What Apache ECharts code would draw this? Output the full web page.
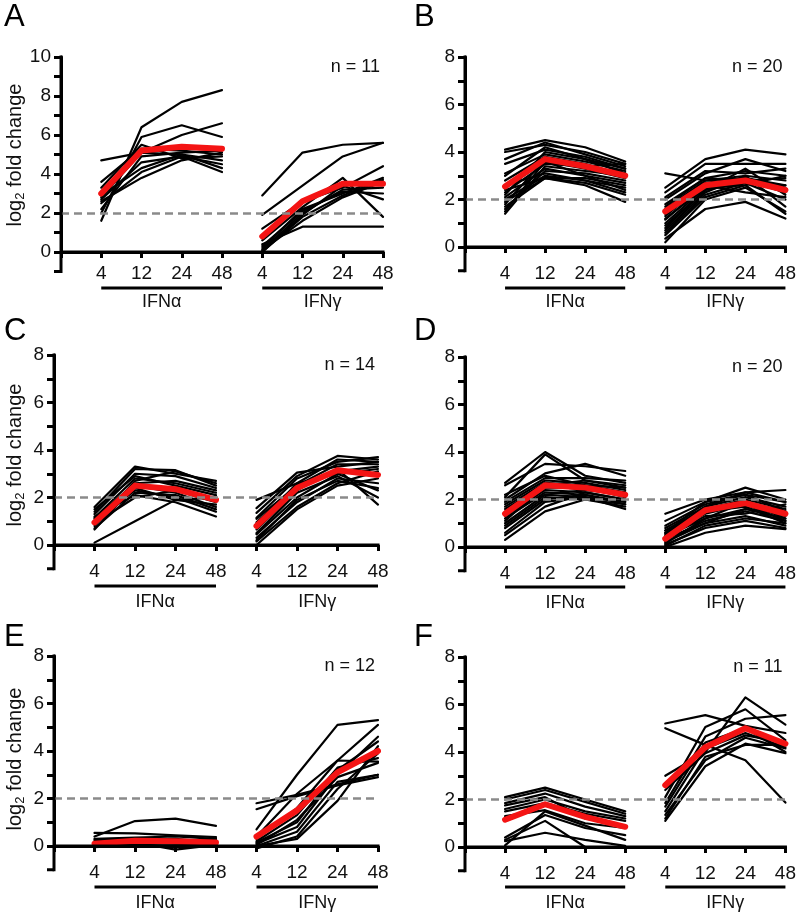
<!DOCTYPE html>
<html><head><meta charset="utf-8">
<script src="https://cdn.jsdelivr.net/npm/echarts/dist/echarts.min.js"></script>
<style>html,body{margin:0;padding:0;background:#fff}#c{width:799px;height:916px}</style>
</head><body><div id="c"></div><script>
const timeLabels = ['4','12','24','48'];
const groupNames = ['IFNα','IFNγ'];
const panelLetters = ['A','B','C','D','E','F'];
const nLabels = ['n = 11','n = 20','n = 14','n = 20','n = 12','n = 11'];
const yMaxes = [10,8,8,8,8,8];
const yAxisBottom = -1;
const threshold = 2;

// Panel A
const aAlpha = [[1.6,6.4,7.7,8.3],[4.7,5.1,6.0,6.6],[2.0,5.9,6.5,5.9],[3.6,5.3,5.2,5.0],[2.8,5.1,5.0,4.7],[2.7,4.6,4.9,4.5],[2.5,4.1,4.9,4.1],[2.6,3.8,4.7,5.1],[2.9,4.3,5.0,4.3],[2.2,4.9,5.1,5.2],[3.3,5.5,4.8,4.9]];
const aGamma = [[2.9,5.1,5.5,5.6],[1.9,3.4,4.9,5.6],[1.2,2.6,3.3,4.4],[0.4,1.3,1.3,1.3],[0.6,2.3,3.8,1.8],[0.2,2.2,3.0,3.8],[0.1,2.0,3.2,3.3],[0.0,1.8,2.9,3.7],[0.3,2.1,3.1,3.0],[0.1,1.6,2.8,3.6],[0.0,1.9,3.4,2.7]];
const aAlphaMean = [3.0,5.2,5.4,5.3];
const aGammaMean = [0.8,2.6,3.5,3.5];
// Panel B
const bAlpha = [[4.1,4.5,4.2,3.6],[4.0,4.3,4.0,3.5],[3.7,4.4,3.9,3.4],[3.5,4.1,3.8,3.3],[3.1,3.9,3.6,3.2],[2.8,3.8,3.5,3.0],[2.5,3.6,3.3,2.9],[2.3,3.5,3.4,3.1],[2.1,3.3,3.0,2.7],[2.0,3.0,2.8,2.5],[1.9,2.9,2.7,2.2],[1.7,2.9,2.6,1.9],[1.6,3.2,3.1,2.8],[1.4,3.4,3.2,3.0],[2.2,4.0,3.7,3.3],[1.8,3.7,3.4,3.5],[2.4,2.9,2.9,2.6],[3.0,4.2,3.7,3.1],[1.5,3.6,3.0,2.4],[2.6,3.1,2.8,2.3]];
const bGamma = [[3.1,2.8,2.9,2.6],[2.5,3.7,4.1,3.9],[2.3,3.5,3.5,3.5],[2.0,3.1,3.7,3.2],[1.8,2.9,3.2,3.0],[1.6,2.8,3.0,2.8],[1.3,2.7,2.9,2.5],[1.15,2.6,2.8,2.3],[0.9,2.4,2.7,2.0],[0.7,2.3,3.0,1.7],[0.5,2.1,2.6,1.4],[0.35,1.6,1.9,1.2],[0.2,2.0,2.5,1.5],[1.4,2.6,2.3,2.1],[1.0,2.5,2.8,2.9],[0.6,2.2,2.7,2.6],[1.7,2.9,2.8,2.4],[1.2,2.5,2.6,3.0],[0.8,2.4,3.3,2.2],[2.1,3.2,3.1,3.3]];
const bAlphaMean = [2.55,3.7,3.4,3.0];
const bGammaMean = [1.5,2.6,2.8,2.4];
// Panel C
const cAlpha = [[0.1,1.0,1.9,2.0],[1.6,3.3,3.0,2.7],[1.4,3.2,3.15,2.5],[1.3,3.0,2.9,2.4],[1.15,2.8,2.6,2.2],[0.8,2.7,3.1,2.6],[0.65,2.5,2.2,1.6],[1.0,2.3,2.0,1.4],[1.2,2.1,1.8,1.2],[0.9,2.0,2.3,1.8],[1.5,2.9,2.5,2.1],[0.7,2.2,2.1,1.5],[1.1,2.6,2.7,2.3],[1.0,2.4,1.9,1.7]];
const cGamma = [[1.9,2.6,3.0,3.2],[1.55,3.05,3.3,3.5],[1.35,2.9,3.75,3.6],[1.15,2.8,3.5,3.7],[0.95,2.5,3.4,3.4],[0.65,2.3,3.2,1.7],[0.45,2.0,3.0,2.3],[0.3,1.8,2.8,2.6],[0.15,1.6,2.6,3.1],[0.0,1.5,2.5,2.8],[0.8,2.6,3.6,3.5],[0.5,2.2,2.9,2.0],[1.1,2.5,3.1,3.3],[0.2,1.9,2.7,2.4]];
const cAlphaMean = [0.95,2.5,2.35,1.9];
const cGammaMean = [0.8,2.4,3.15,2.95];
// Panel D
const dAlpha = [[2.7,4.0,3.0,2.7],[2.6,3.5,3.4,3.2],[2.1,3.9,2.8,2.5],[2.0,3.1,3.5,3.0],[1.9,2.9,2.9,2.8],[1.8,2.8,2.7,2.4],[1.7,2.7,2.6,2.3],[1.5,2.5,2.5,2.1],[1.3,2.4,2.3,2.0],[1.2,2.3,2.2,1.9],[1.0,2.2,2.4,2.2],[0.9,2.1,2.0,1.7],[0.8,2.0,2.2,1.8],[0.6,1.9,2.1,1.6],[0.5,1.7,2.3,2.0],[0.3,1.5,2.0,1.8],[1.6,2.6,2.8,2.6],[1.1,2.6,2.4,2.3],[2.2,3.0,2.6,2.5],[1.4,2.2,2.1,1.9]];
const dGamma = [[1.4,2.0,2.3,2.4],[1.1,1.9,2.5,2.0],[0.9,1.8,2.2,1.9],[0.8,1.7,2.1,1.7],[0.7,1.6,2.0,1.6],[0.6,1.5,1.9,1.5],[0.5,1.4,1.8,1.3],[0.45,1.2,1.6,1.2],[0.3,1.1,1.5,1.1],[0.2,1.0,1.3,0.9],[0.1,0.8,1.1,0.8],[0.0,0.6,0.9,0.75],[0.4,1.3,1.4,1.8],[0.25,1.5,1.7,1.0],[0.6,1.9,2.2,1.5],[0.35,1.0,1.6,1.4],[0.15,1.2,1.9,1.2],[0.55,1.7,2.3,1.9],[0.05,0.9,1.2,1.0],[0.7,1.6,1.8,1.1]];
const dAlphaMean = [1.4,2.6,2.5,2.2];
const dGammaMean = [0.35,1.55,1.85,1.4];
// Panel E
const eAlpha = [[0.4,1.05,1.15,0.85],[0.55,0.53,0.45,0.37],[0.3,0.35,0.4,0.3],[0.2,0.3,0.25,0.2],[0.1,0.25,0.3,0.15],[0.0,0.15,-0.15,0.05],[0.05,0.1,0.1,0.05],[0.15,0.2,0.15,0.25],[-0.05,0.05,0.0,0.0],[0.25,0.3,0.2,0.1],[0.0,0.2,0.1,0.1],[0.1,0.1,0.2,0.3]];
const eGamma = [[0.7,3.0,5.1,5.3],[0.4,2.2,3.6,5.1],[1.8,2.15,2.6,3.0],[1.55,2.1,2.55,2.9],[0.3,1.6,3.6,3.55],[0.0,0.3,1.9,4.2],[0.1,0.8,3.0,4.6],[0.05,1.1,2.9,3.5],[-0.1,0.4,2.4,3.9],[0.2,1.3,3.3,3.7],[0.0,0.6,2.7,3.0],[0.15,1.0,3.2,4.4]];
const eAlphaMean = [0.1,0.22,0.2,0.15];
const eGammaMean = [0.4,1.5,3.1,4.0];
// Panel F
const fAlpha = [[2.1,2.5,2.0,1.5],[2.0,2.4,1.9,1.4],[1.85,2.25,1.7,1.3],[1.6,2.0,1.5,1.2],[1.5,1.85,1.4,1.1],[1.3,1.55,1.0,0.8],[0.4,1.35,0.8,0.5],[0.3,1.1,0.0,0.0],[0.25,0.6,0.3,0.05],[0.07,1.5,0.9,0.3],[1.75,2.1,1.2,0.9]];
const fGamma = [[5.2,5.55,5.1,4.8],[5.0,4.3,3.65,1.87],[3.0,4.0,6.3,5.15],[2.1,5.05,5.8,4.5],[1.85,4.65,5.4,5.55],[1.5,4.15,4.8,4.2],[1.35,3.65,4.6,4.15],[1.1,3.4,4.35,3.95],[2.4,3.95,4.7,4.4],[1.7,4.4,5.0,4.0],[1.2,3.8,4.3,4.3]];
const fAlphaMean = [1.15,1.8,1.27,0.85];
const fGammaMean = [2.6,4.2,5.0,4.35];

const panels = [
  {alpha:aAlpha, gamma:aGamma, alphaMean:aAlphaMean, gammaMean:aGammaMean},
  {alpha:bAlpha, gamma:bGamma, alphaMean:bAlphaMean, gammaMean:bGammaMean},
  {alpha:cAlpha, gamma:cGamma, alphaMean:cAlphaMean, gammaMean:cGammaMean},
  {alpha:dAlpha, gamma:dGamma, alphaMean:dAlphaMean, gammaMean:dGammaMean},
  {alpha:eAlpha, gamma:eGamma, alphaMean:eAlphaMean, gammaMean:eGammaMean},
  {alpha:fAlpha, gamma:fGamma, alphaMean:fAlphaMean, gammaMean:fGammaMean}
];

// layout (pixels); grid spans y from 0 to max, the axis stub below 0 is added separately
const layouts = [
  {left:61, top:57, width:322, height:195, letter:[4,17], ylab:[15,155], xlm:12, barOff:36, labOff:50},
  {left:465, top:57, width:322, height:190, letter:[414,17], ylab:null, xlm:17, barOff:41, labOff:55},
  {left:54, top:355, width:324, height:190, letter:[4,331], ylab:[15,455], xlm:17, barOff:41, labOff:57},
  {left:465, top:357, width:322, height:190, letter:[414,331], ylab:null, xlm:17, barOff:40, labOff:56},
  {left:54, top:656, width:324, height:190, letter:[4,637], ylab:[15,759], xlm:17, barOff:41, labOff:57},
  {left:465, top:657, width:322, height:190, letter:[414,637], ylab:null, xlm:17, barOff:40, labOff:56}
];
const FONT = '"Liberation Sans", Arial, Helvetica, sans-serif';
const AXW = 3;

const chart = echarts.init(document.getElementById('c'), null, {renderer:'canvas'});

const grid = [], xAxis = [], yAxis = [], series = [];
panels.forEach((P, p) => {
  const L = layouts[p];
  grid.push({left:L.left, top:L.top, width:L.width, height:L.height});
  xAxis.push({
    type:'value', gridIndex:p, position:'bottom', min:0, max:8, interval:1,
    axisLine:{show:true, onZero:false, lineStyle:{color:'#000', width:AXW}},
    axisTick:{show:true, length:6, inside:false, lineStyle:{color:'#000', width:AXW}},
    axisLabel:{fontSize:19, color:'#111', margin:L.xlm, fontFamily:FONT,
      formatter: v => (v >= 1 && v <= 8) ? timeLabels[(Math.round(v) - 1) % 4] : ''},
    splitLine:{show:false}
  });
  yAxis.push({
    type:'value', gridIndex:p, position:'left', min:0, max:yMaxes[p], interval:1,
    axisLine:{show:true, onZero:false, lineStyle:{color:'#000', width:AXW}},
    axisTick:{show:true, length:7, lineStyle:{color:'#000', width:AXW}},
    axisLabel:{fontSize:19, color:'#111', margin:10, fontFamily:FONT,
      formatter: v => (Math.round(v) % 2 === 0) ? String(Math.round(v)) : ''},
    splitLine:{show:false}
  });
  // threshold dashed line
  series.push({
    type:'line', xAxisIndex:p, yAxisIndex:p, data:[[0, threshold]], symbol:'none', silent:true, z:1,
    lineStyle:{opacity:0},
    markLine:{silent:true, symbol:['none','none'], label:{show:false},
      lineStyle:{color:'#8a8a8a', width:2.6, type:[8,5]},
      data:[{yAxis:threshold}]}
  });
  const addLine = (vals, offset, color, width, z) => {
    series.push({
      type:'line', xAxisIndex:p, yAxisIndex:p, symbol:'none', silent:true, z:z, clip:false,
      data: vals.map((v, i) => [i + 1 + offset, v]),
      lineStyle:{color:color, width:width, cap:'round', join:'round'}
    });
  };
  P.alpha.forEach(r => addLine(r, 0, '#000', 2.2, 2));
  P.gamma.forEach(r => addLine(r, 4, '#000', 2.2, 2));
  addLine(P.alphaMean, 0, '#f41414', 6, 3);
  addLine(P.gammaMean, 4, '#f41414', 6, 3);
});

chart.setOption({animation:false, backgroundColor:'#fff', grid, xAxis, yAxis, series});

const graphic = [];
layouts.forEach((L, p) => {
  const toPx = (x, y) => chart.convertToPixel({gridIndex:p}, [x, y]);
  const px = v => toPx(v, 0)[0];
  const zero = toPx(0, 0), low = toPx(0, yAxisBottom), top = toPx(0, yMaxes[p]), right = toPx(8, 0);
  // axis lines: y axis from max down to -1, x axis along zero
  graphic.push({type:'line', silent:true, z:50, shape:{x1:top[0], y1:top[1] - AXW / 2, x2:low[0], y2:low[1] + AXW / 2},
    style:{stroke:'#000', lineWidth:AXW}});
  graphic.push({type:'line', silent:true, z:50, shape:{x1:zero[0], y1:zero[1], x2:right[0] + AXW / 2, y2:right[1]},
    style:{stroke:'#000', lineWidth:AXW}});
  graphic.push({type:'line', silent:true, z:50, shape:{x1:low[0] - 7, y1:low[1], x2:low[0], y2:low[1]},
    style:{stroke:'#000', lineWidth:AXW}});
  const gBottom = zero[1];
  [[1,4],[5,8]].forEach((rng, gi) => {
    const x1 = px(rng[0]), x2 = px(rng[1]);
    graphic.push({type:'line', silent:true, shape:{x1:x1, y1:gBottom + L.barOff, x2:x2, y2:gBottom + L.barOff},
      style:{stroke:'#000', lineWidth:3}});
    graphic.push({type:'text', silent:true, x:(x1 + x2) / 2, y:gBottom + L.labOff,
      style:{text:groupNames[gi], fill:'#111', font:'18px ' + FONT, textAlign:'center', textVerticalAlign:'middle'}});
  });
  graphic.push({type:'text', silent:true, x:px(8) - 3, y:L.top + 10,
    style:{text:nLabels[p], fill:'#111', font:'18px ' + FONT, textAlign:'right', textVerticalAlign:'middle'}});
  graphic.push({type:'text', silent:true, x:L.letter[0], y:L.letter[1],
    style:{text:panelLetters[p], fill:'#000', font:'31px ' + FONT, textAlign:'left', textVerticalAlign:'middle'}});
  if (L.ylab) {
    graphic.push({type:'text', silent:true, x:L.ylab[0], y:L.ylab[1], rotation:Math.PI / 2,
      style:{text:'{a|log}{s|2}{a| fold change}', textAlign:'center', textVerticalAlign:'middle',
        rich:{a:{fontSize:20, fontFamily:FONT, fill:'#111', lineHeight:24},
              s:{fontSize:13, fontFamily:FONT, fill:'#111', verticalAlign:'bottom'}}}});
  }
});
chart.setOption({graphic});
</script></body></html>
